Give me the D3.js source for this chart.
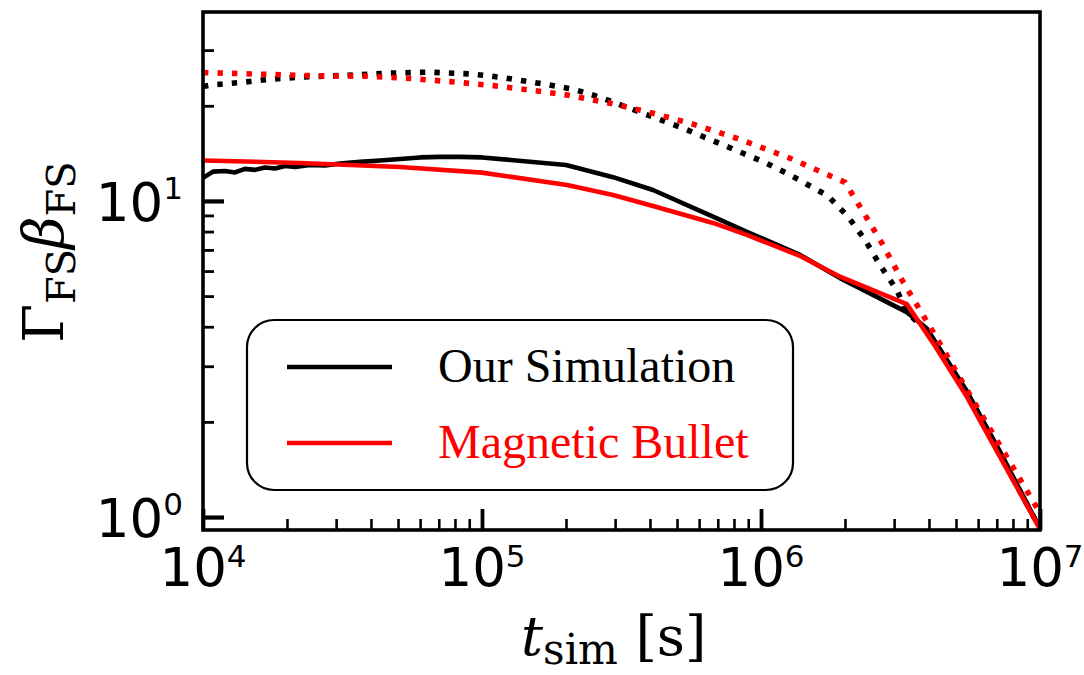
<!DOCTYPE html>
<html>
<head>
<meta charset="utf-8">
<script src="https://cdn.jsdelivr.net/npm/d3@7"></script>
<style>
  html, body { margin: 0; padding: 0; background: #fff; }
  svg { display: block; }
</style>
</head>
<body>
<svg id="chart" width="1084" height="675"></svg>
<script>
// Forward-shock four-velocity vs simulation time

// Our Simulation (solid black)
const simTime  = [1.0e4, 1.086e4, 1.199e4, 1.302e4, 1.414e4, 1.536e4, 1.668e4, 1.812e4, 1.967e4, 2.137e4,
                  2.418e4, 2.736e4, 3.097e4, 3.653e4, 4.31e4, 5.083e4, 5.995e4, 7.07e4, 8.34e4, 1.0e5,
                  2.0e5, 2.95e5, 4.1e5, 6.73e5, 8.9e5, 1.38e6, 1.92e6, 3.33e6, 3.93e6, 5.47e6, 7.19e6, 1.0e7];
const simGamma = [11.83, 12.38, 12.44, 12.31, 12.63, 12.54, 12.76, 12.67, 12.9, 12.81,
                  13.0, 12.95, 13.14, 13.29, 13.43, 13.58, 13.73, 13.78, 13.78, 13.73,
                  13.0, 11.89, 10.83, 8.92, 7.99, 6.75, 5.7, 4.45, 3.95, 2.5, 1.61, 0.92];

// Magnetic Bullet (solid red)
const bulletTime  = [1.0e4, 2.227e4, 5.08e4, 1.0e5, 2.017e5, 2.95e5, 4.1e5, 6.73e5, 8.9e5, 1.38e6,
                     1.92e6, 3.33e6, 4.14e6, 5.47e6, 7.19e6, 1.0e7];
const bulletGamma = [13.43, 13.19, 12.81, 12.29, 11.23, 10.44, 9.64, 8.52, 7.81, 6.70,
                     5.76, 4.72, 3.55, 2.40, 1.55, 0.916];

// Our Simulation, second quantity (dotted black)
const simDotTime  = [1.0e4, 1.074e4, 1.357e4, 1.739e4, 2.227e4, 3.097e4, 4.55e4, 6.51e4, 9.06e4, 1.16e5,
                     1.654e5, 2.12e5, 2.648e5, 3.685e5, 5.25e5, 7.31e5, 1.017e6, 1.27e6, 1.739e6, 2.05e6,
                     2.36e6, 2.67e6, 3.065e6, 3.33e6, 3.93e6, 5.47e6, 7.19e6, 1.0e7];
const simDotGamma = [23.0, 23.28, 23.68, 24.27, 24.63, 24.92, 25.36, 25.55, 25.23, 24.63,
                     23.46, 22.57, 21.29, 19.09, 16.99, 15.04, 13.32, 12.09, 10.37, 8.92,
                     7.53, 6.27, 5.23, 4.45, 3.88, 2.46, 1.58, 0.92];

// Magnetic Bullet, second quantity (dotted red)
const bulletDotTime  = [1.0e4, 1.601e4, 2.556e4, 3.86e4, 5.37e4, 7.68e4, 1.098e5, 1.403e5, 2.012e5, 2.876e5,
                        4.1e5, 5.71e5, 8.18e5, 1.27e6, 2.0e6, 2.264e6, 2.71e6, 3.228e6, 4.14e6, 5.61e6,
                        7.6e6, 1.0e7];
const bulletDotGamma = [25.47, 25.18, 24.87, 24.81, 24.45, 23.85, 23.16, 22.57, 21.65, 20.38,
                        18.95, 17.49, 15.79, 13.65, 11.45, 9.59, 7.36, 5.55, 3.85, 2.43,
                        1.55, 1.03];

// Axis ticks
const xMajor = [1e4, 1e5, 1e6, 1e7];
const xMajorExp = ["4", "5", "6", "7"];
const yMajor = [1, 10];
const yMajorExp = ["0", "1"];

const legendLabels = ["Our Simulation", "Magnetic Bullet"];
const legendColors = ["#000000", "#ff0000"];

const svg = d3.select("#chart");
const W = 1084, H = 675;
const plot = { left: 203, right: 1040, top: 12, bottom: 530 };

const x = d3.scaleLog().domain([1e4, 1e7]).range([plot.left, plot.right]);
const y = d3.scaleLog().domain([0.91, 39.6]).range([plot.bottom, plot.top]);

// minor ticks for log axes
function minorTicks(domain) {
  const out = [];
  const lo = Math.floor(Math.log10(domain[0])), hi = Math.ceil(Math.log10(domain[1]));
  for (let e = lo; e <= hi; e++) {
    for (let m = 2; m <= 9; m++) {
      const v = m * Math.pow(10, e);
      if (v > domain[0] && v < domain[1]) out.push(v);
    }
  }
  return out;
}

svg.append("rect").attr("width", W).attr("height", H).attr("fill", "#fff");

const defs = svg.append("defs");
defs.append("clipPath").attr("id", "clip")
  .append("rect")
  .attr("x", plot.left).attr("y", plot.top)
  .attr("width", plot.right - plot.left).attr("height", plot.bottom - plot.top);

const lineGen = (xs, ys) => d3.line()
  .x((d, i) => x(xs[i]))
  .y((d, i) => y(ys[i]))(xs);

const curves = svg.append("g").attr("clip-path", "url(#clip)");

const series = [
  { t: simTime, g: simGamma, color: "#000", dotted: false },
  { t: simDotTime, g: simDotGamma, color: "#000", dotted: true },
  { t: bulletTime, g: bulletGamma, color: "#ff0000", dotted: false },
  { t: bulletDotTime, g: bulletDotGamma, color: "#ff0000", dotted: true }
];

series.forEach(s => {
  curves.append("path")
    .attr("d", lineGen(s.t, s.g))
    .attr("fill", "none")
    .attr("stroke", s.color)
    .attr("stroke-width", s.dotted ? 5.6 : 4.6)
    .attr("stroke-linejoin", "round")
    .attr("stroke-linecap", s.dotted ? "butt" : "round")
    .attr("stroke-dasharray", s.dotted ? "5.4,9.1" : null);
});

// Axes with inward ticks
const xAxisMajor = d3.axisBottom(x).tickValues(xMajor).tickSize(-21).tickFormat("");
const xAxisMinor = d3.axisBottom(x).tickValues(minorTicks(x.domain())).tickSize(-11).tickFormat("");
const yAxisMajor = d3.axisLeft(y).tickValues(yMajor).tickSize(-21).tickFormat("");
const yAxisMinor = d3.axisLeft(y).tickValues(minorTicks(y.domain())).tickSize(-11).tickFormat("");

function styleAxis(g, w) {
  g.select(".domain").remove();
  g.selectAll(".tick line").attr("stroke", "#000").attr("stroke-width", w);
}

svg.append("g").attr("transform", `translate(0,${plot.bottom})`).call(xAxisMinor).call(g => styleAxis(g, 2.6));
svg.append("g").attr("transform", `translate(0,${plot.bottom})`).call(xAxisMajor).call(g => styleAxis(g, 3.8));
svg.append("g").attr("transform", `translate(${plot.left},0)`).call(yAxisMinor).call(g => styleAxis(g, 2.8));
svg.append("g").attr("transform", `translate(${plot.left},0)`).call(yAxisMajor).call(g => styleAxis(g, 4.2));

// Frame
svg.append("rect")
  .attr("x", plot.left).attr("y", plot.top)
  .attr("width", plot.right - plot.left).attr("height", plot.bottom - plot.top)
  .attr("fill", "none").attr("stroke", "#000").attr("stroke-width", 3.6);

// Tick labels
const tickFont = "'DejaVu Sans', sans-serif";
xMajor.forEach((v, i) => {
  const t = svg.append("text")
    .attr("x", x(v)).attr("y", 586)
    .attr("text-anchor", "middle")
    .attr("font-family", tickFont).attr("font-size", 53).attr("fill", "#000");
  t.append("tspan").text("10");
  t.append("tspan").attr("font-size", 31).attr("dy", -19).text(xMajorExp[i]);
});
yMajor.forEach((v, i) => {
  const t = svg.append("text")
    .attr("x", 183).attr("y", y(v) + 20)
    .attr("text-anchor", "end")
    .attr("font-family", tickFont).attr("font-size", 53).attr("fill", "#000");
  t.append("tspan").text("10");
  t.append("tspan").attr("font-size", 31).attr("dy", -22).text(yMajorExp[i]);
});

// Axis titles
const serif = "'DejaVu Serif', serif";
const xt = svg.append("text")
  .attr("x", 521).attr("y", 655)
  .attr("text-anchor", "start")
  .attr("font-family", serif).attr("font-size", 55).attr("fill", "#000");
xt.append("tspan").attr("font-style", "italic").text("t");
xt.append("tspan").attr("font-size", 42).attr("dy", 9).text("sim");
xt.append("tspan").attr("dy", -9).text(" [s]");

const yt = svg.append("text")
  .attr("transform", "translate(63,252) rotate(-90)")
  .attr("text-anchor", "middle")
  .attr("font-family", serif).attr("font-size", 56).attr("fill", "#000");
yt.append("tspan").text("\u0393");
yt.append("tspan").attr("font-size", 40).attr("dy", 12).text("FS");
yt.append("tspan").attr("font-style", "italic").attr("dy", -12).text("\u03B2");
yt.append("tspan").attr("font-size", 40).attr("dy", 12).text("FS");

// Legend
const leg = svg.append("g");
leg.append("rect")
  .attr("x", 247).attr("y", 320).attr("width", 546).attr("height", 170)
  .attr("rx", 27).attr("ry", 27)
  .attr("fill", "#fff").attr("stroke", "#000").attr("stroke-width", 2.2);
const rowY = [367, 443];
legendLabels.forEach((lab, i) => {
  leg.append("line")
    .attr("x1", 287).attr("x2", 392)
    .attr("y1", rowY[i]).attr("y2", rowY[i])
    .attr("stroke", legendColors[i]).attr("stroke-width", 4.6);
  leg.append("text")
    .attr("x", 438).attr("y", rowY[i] + 15)
    .attr("font-family", "'Liberation Serif', 'Times New Roman', serif")
    .attr("font-size", 48)
    .attr("fill", legendColors[i])
    .text(lab);
});
</script>
</body>
</html>
